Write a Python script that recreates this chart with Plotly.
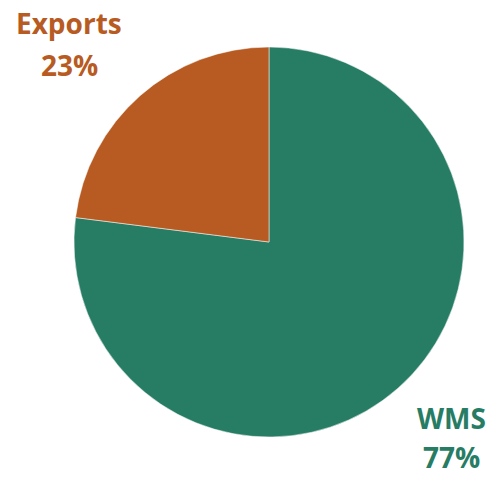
import plotly.graph_objects as go

labels = ["WMS", "Exports"]
values = [77, 23]
pct_text = ["77%", "23%"]
colors = ["#277C64", "#B85B22"]

W, H = 497, 477
cx, cy, r = 269, 242, 195

fig = go.Figure(go.Pie(
    labels=labels, values=values, sort=False,
    direction="clockwise", rotation=0,
    marker=dict(colors=colors, line=dict(color="white", width=0.5)),
    textinfo="none", hoverinfo="label+percent",
    domain=dict(x=[(cx - r) / W, (cx + r) / W],
                y=[(H - cy - r) / H, (H - cy + r) / H]),
))

# outside labels: (x, y of name line, y of percent line) in pixels from top-left
label_pos = [(451, 418, 457), (69, 23, 65)]
for i, (x, y1, y2) in enumerate(label_pos):
    for txt, y in ((labels[i], y1), (pct_text[i], y2)):
        fig.add_annotation(x=x / W, y=1 - y / H, xref="paper", yref="paper",
                           xanchor="center", yanchor="middle", borderpad=0,
                           text="<b>%s</b>" % txt, showarrow=False,
                           font=dict(size=28, color=colors[i], family="Open Sans"))

fig.update_layout(
    width=W, height=H,
    margin=dict(l=0, r=0, t=0, b=0),
    paper_bgcolor="white", plot_bgcolor="white",
    showlegend=False,
)
fig.write_html("out.html", config={"displayModeBar": False},
               post_script="document.body.style.margin='0';")
